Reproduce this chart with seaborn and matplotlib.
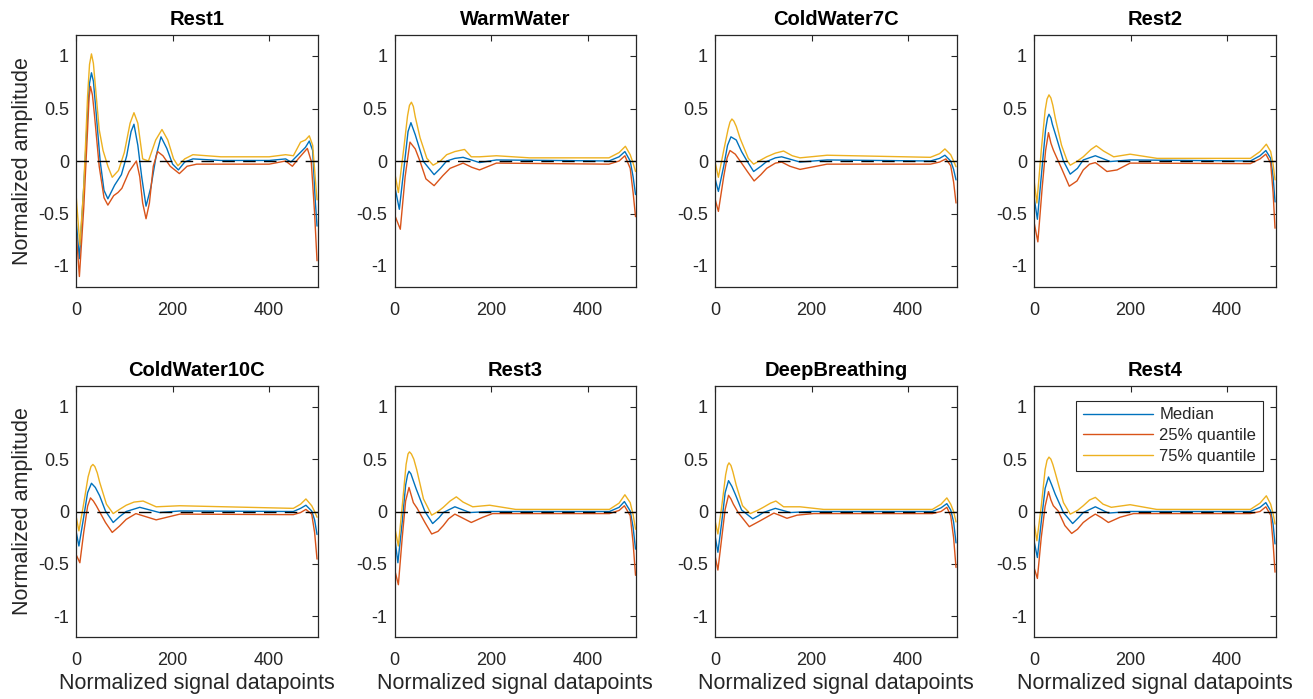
import numpy as np
import pandas as pd
import matplotlib
matplotlib.use("Agg")
import matplotlib.pyplot as plt
import seaborn as sns

# ---- data (x = datapoint index, y = normalized amplitude) ----
conditions = ["Rest1", "WarmWater", "ColdWater7C", "Rest2",
              "ColdWater10C", "Rest3", "DeepBreathing", "Rest4"]
series_names = ["Median", "25% quantile", "75% quantile"]

# Rest1
r1_med_x = [0, 7, 16, 24, 28, 32, 36, 40, 50, 58, 66, 80, 94, 105, 114, 120, 128, 136, 145, 155, 166, 176, 188, 200, 212, 225, 242, 300, 400, 434, 445, 460, 475, 483, 490, 495, 499]
r1_med = [-0.55, -0.93, -0.25, 0.45, 0.74, 0.84, 0.76, 0.55, 0.0, -0.28, -0.36, -0.23, -0.13, 0.05, 0.28, 0.35, 0.15, -0.15, -0.43, -0.25, 0.05, 0.23, 0.12, -0.03, -0.085, -0.01, 0.02, 0.005, 0.005, 0.02, -0.01, 0.06, 0.13, 0.19, 0.1, -0.35, -0.62]
r1_q25_x = [0, 7, 16, 24, 27, 30, 34, 38, 48, 58, 66, 78, 87, 95, 110, 125, 132, 138, 145, 152, 160, 169, 180, 195, 214, 230, 250, 300, 400, 434, 448, 460, 479, 487, 494, 499]
r1_q25 = [-0.65, -1.1, -0.45, 0.3, 0.6, 0.71, 0.63, 0.45, -0.05, -0.35, -0.42, -0.33, -0.3, -0.26, -0.1, 0.0, -0.15, -0.4, -0.55, -0.4, -0.05, 0.09, 0.05, -0.05, -0.12, -0.05, -0.03, -0.03, -0.03, 0.0, -0.05, 0.02, 0.12, 0.0, -0.5, -0.95]
r1_q75_x = [0, 8, 16, 24, 28, 32, 36, 40, 48, 56, 66, 75, 88, 100, 112, 120, 128, 138, 150, 165, 178, 190, 202, 211, 225, 242, 300, 400, 434, 450, 465, 475, 483, 490, 496, 499]
r1_q75 = [-0.31, -0.8, -0.25, 0.62, 0.92, 1.02, 0.93, 0.72, 0.3, 0.1, -0.05, -0.155, -0.09, 0.08, 0.36, 0.46, 0.36, 0.02, 0.0, 0.2, 0.3, 0.2, 0.02, -0.045, 0.02, 0.06, 0.04, 0.04, 0.06, 0.05, 0.18, 0.2, 0.24, 0.15, -0.2, -0.37]

# WarmWater
ww_med_x = [0, 10, 20, 28, 34, 43, 60, 82, 95, 108, 125, 142, 176, 211, 444, 465, 477, 488, 494, 499]
ww_med = [-0.23, -0.46, -0.05, 0.28, 0.365, 0.25, -0.005, -0.13, -0.07, 0.0, 0.025, 0.035, -0.015, 0.01, 0.0, 0.04, 0.09, 0.0, -0.15, -0.32]
ww_q25_x = [0, 12, 22, 32, 43, 53, 65, 82, 100, 115, 142, 160, 176, 211, 444, 465, 477, 488, 494, 499]
ww_q25 = [-0.51, -0.65, -0.15, 0.18, 0.115, -0.005, -0.17, -0.235, -0.14, -0.07, -0.02, -0.06, -0.085, -0.02, -0.03, 0.0, 0.05, -0.07, -0.3, -0.53]
ww_q75_x = [0, 8, 20, 27, 31, 35, 39, 43, 53, 67, 80, 95, 108, 125, 145, 159, 176, 211, 280, 444, 465, 478, 488, 494, 499]
ww_q75 = [-0.10, -0.30, 0.15, 0.43, 0.53, 0.56, 0.52, 0.42, 0.22, 0.025, -0.04, 0.0, 0.06, 0.09, 0.11, 0.04, 0.04, 0.05, 0.03, 0.03, 0.08, 0.14, 0.06, -0.02, -0.10]

# ColdWater7C
c7_med_x = [0, 7, 18, 26, 33, 44, 55, 67, 80, 95, 107, 125, 138, 176, 232, 446, 465, 476, 488, 494, 499]
c7_med = [-0.165, -0.29, -0.05, 0.15, 0.23, 0.20, 0.09, -0.005, -0.10, -0.05, -0.005, 0.03, 0.04, -0.01, 0.01, 0.0, 0.025, 0.055, 0.0, -0.08, -0.18]
c7_q25_x = [0, 7, 18, 25, 31, 42, 55, 67, 81, 95, 107, 125, 138, 155, 176, 232, 446, 465, 478, 488, 494, 499]
c7_q25 = [-0.36, -0.48, -0.15, 0.03, 0.10, 0.065, -0.02, -0.10, -0.19, -0.13, -0.07, -0.02, -0.01, -0.05, -0.08, -0.03, -0.03, -0.01, 0.02, -0.045, -0.2, -0.40]
c7_q75_x = [0, 7, 18, 27, 31, 35, 39, 44, 52, 69, 80, 95, 107, 125, 142, 160, 176, 232, 446, 465, 476, 488, 494, 499]
c7_q75 = [-0.005, -0.155, 0.1, 0.3, 0.37, 0.40, 0.38, 0.33, 0.215, 0.025, -0.03, 0.01, 0.04, 0.075, 0.095, 0.05, 0.03, 0.055, 0.035, 0.07, 0.115, 0.06, 0.0, -0.055]

# Rest2
r2_med_x = [0, 7, 16, 24, 28, 31, 35, 38, 47, 61, 75, 90, 102, 127, 158, 199, 448, 468, 480, 490, 495, 499]
r2_med = [-0.34, -0.555, -0.1, 0.3, 0.41, 0.445, 0.41, 0.35, 0.215, 0.0, -0.125, -0.07, 0.01, 0.05, -0.005, 0.01, 0.0, 0.05, 0.10, 0.025, -0.15, -0.39]
r2_q25_x = [0, 8, 17, 24, 30, 35, 40, 57, 73, 89, 102, 115, 127, 140, 151, 172, 199, 448, 468, 480, 490, 495, 499]
r2_q25 = [-0.58, -0.77, -0.25, 0.1, 0.27, 0.17, 0.105, -0.07, -0.24, -0.19, -0.085, -0.03, -0.015, -0.06, -0.10, -0.085, -0.02, -0.025, 0.02, 0.065, -0.02, -0.3, -0.64]
r2_q75_x = [0, 6, 15, 23, 27, 31, 35, 39, 44, 57, 68, 75, 90, 102, 118, 129, 144, 165, 199, 255, 448, 468, 481, 490, 495, 499]
r2_q75 = [-0.18, -0.40, 0.1, 0.48, 0.59, 0.63, 0.6, 0.53, 0.41, 0.15, 0.01, -0.04, 0.0, 0.04, 0.11, 0.145, 0.095, 0.04, 0.065, 0.025, 0.025, 0.09, 0.16, 0.09, -0.03, -0.18]

# ColdWater10C
c10_med_x = [0, 6, 15, 24, 32, 40, 49, 61, 77, 90, 104, 132, 173, 215, 450, 465, 476, 488, 494, 499]
c10_med = [-0.185, -0.33, -0.08, 0.18, 0.27, 0.23, 0.15, 0.005, -0.105, -0.05, 0.0, 0.04, -0.01, 0.005, 0.0, 0.03, 0.06, 0.005, -0.08, -0.22]
c10_q25_x = [0, 8, 16, 24, 30, 36, 42, 61, 75, 90, 104, 124, 145, 166, 215, 450, 465, 476, 488, 494, 499]
c10_q25 = [-0.41, -0.49, -0.2, 0.05, 0.13, 0.1, 0.055, -0.105, -0.20, -0.14, -0.075, -0.02, -0.05, -0.08, -0.025, -0.03, -0.01, 0.02, -0.025, -0.2, -0.455]
c10_q75_x = [0, 6, 15, 25, 31, 35, 39, 44, 49, 63, 77, 90, 104, 120, 139, 166, 215, 450, 465, 476, 488, 494, 499]
c10_q75 = [-0.04, -0.185, 0.05, 0.33, 0.43, 0.45, 0.43, 0.37, 0.28, 0.07, -0.02, 0.02, 0.06, 0.09, 0.10, 0.045, 0.055, 0.03, 0.07, 0.12, 0.055, 0.0, -0.055]

# Rest3
r3_med_x = [0, 7, 16, 23, 27, 30, 34, 37, 45, 63, 79, 92, 101, 125, 156, 197, 445, 465, 476, 488, 494, 499]
r3_med = [-0.23, -0.49, -0.1, 0.25, 0.35, 0.385, 0.36, 0.32, 0.215, 0.0, -0.115, -0.06, -0.01, 0.045, -0.01, 0.0, 0.0, 0.04, 0.095, 0.005, -0.15, -0.36]
r3_q25_x = [0, 8, 16, 23, 30, 35, 39, 47, 63, 77, 90, 101, 112, 125, 140, 159, 183, 203, 445, 465, 476, 488, 494, 499]
r3_q25 = [-0.55, -0.70, -0.25, 0.1, 0.23, 0.15, 0.085, 0.03, -0.105, -0.215, -0.19, -0.135, -0.07, -0.025, -0.06, -0.105, -0.055, -0.02, -0.02, 0.01, 0.055, -0.04, -0.3, -0.61]
r3_q75_x = [0, 8, 17, 24, 28, 31, 35, 40, 46, 60, 77, 90, 101, 115, 128, 142, 162, 197, 251, 445, 465, 477, 488, 494, 499]
r3_q75 = [-0.14, -0.33, 0.1, 0.45, 0.55, 0.57, 0.55, 0.5, 0.40, 0.12, -0.035, 0.0, 0.04, 0.1, 0.14, 0.09, 0.045, 0.06, 0.02, 0.02, 0.08, 0.16, 0.085, -0.03, -0.17]

# DeepBreathing
db_med_x = [0, 6, 14, 21, 28, 35, 42, 55, 78, 90, 100, 125, 156, 197, 450, 468, 480, 488, 494, 499]
db_med = [-0.23, -0.39, -0.1, 0.18, 0.295, 0.24, 0.165, 0.015, -0.07, -0.04, -0.01, 0.03, -0.01, 0.0, 0.0, 0.035, 0.075, 0.015, -0.1, -0.30]
db_q25_x = [0, 6, 14, 21, 28, 33, 38, 48, 59, 71, 93, 122, 136, 149, 170, 204, 450, 468, 480, 488, 494, 499]
db_q25 = [-0.42, -0.56, -0.25, 0.02, 0.155, 0.12, 0.07, -0.01, -0.075, -0.145, -0.09, -0.015, -0.04, -0.065, -0.035, -0.02, -0.02, 0.0, 0.04, -0.04, -0.25, -0.535]
db_q75_x = [0, 6, 14, 22, 26, 29, 33, 37, 44, 57, 73, 88, 100, 115, 126, 142, 176, 225, 450, 468, 480, 488, 494, 499]
db_q75 = [-0.085, -0.215, 0.05, 0.35, 0.44, 0.465, 0.44, 0.38, 0.25, 0.055, -0.02, 0.01, 0.04, 0.08, 0.10, 0.045, 0.045, 0.02, 0.02, 0.07, 0.13, 0.07, 0.0, -0.10]

# Rest4
r4_med_x = [0, 7, 15, 23, 30, 37, 44, 61, 80, 92, 102, 127, 154, 199, 448, 468, 480, 490, 495, 499]
r4_med = [-0.28, -0.44, -0.1, 0.22, 0.33, 0.25, 0.165, -0.01, -0.115, -0.06, -0.01, 0.045, -0.015, 0.0, 0.0, 0.04, 0.085, 0.005, -0.12, -0.31]
r4_q25_x = [0, 7, 15, 23, 30, 35, 40, 50, 64, 78, 90, 102, 115, 127, 140, 154, 178, 206, 448, 468, 480, 490, 495, 499]
r4_q25 = [-0.535, -0.64, -0.25, 0.05, 0.19, 0.11, 0.055, 0.005, -0.135, -0.21, -0.17, -0.105, -0.06, -0.025, -0.06, -0.105, -0.055, -0.02, -0.02, 0.0, 0.045, -0.035, -0.3, -0.58]
r4_q75_x = [0, 6, 15, 23, 27, 31, 35, 39, 44, 61, 75, 90, 102, 115, 127, 143, 160, 199, 254, 448, 468, 481, 490, 495, 499]
r4_q75 = [-0.10, -0.28, 0.05, 0.4, 0.49, 0.52, 0.5, 0.45, 0.37, 0.085, -0.025, 0.01, 0.055, 0.11, 0.135, 0.07, 0.04, 0.065, 0.02, 0.02, 0.08, 0.15, 0.07, -0.02, -0.12]

panel_series = {
    "Rest1": [(r1_med_x, r1_med), (r1_q25_x, r1_q25), (r1_q75_x, r1_q75)],
    "WarmWater": [(ww_med_x, ww_med), (ww_q25_x, ww_q25), (ww_q75_x, ww_q75)],
    "ColdWater7C": [(c7_med_x, c7_med), (c7_q25_x, c7_q25), (c7_q75_x, c7_q75)],
    "Rest2": [(r2_med_x, r2_med), (r2_q25_x, r2_q25), (r2_q75_x, r2_q75)],
    "ColdWater10C": [(c10_med_x, c10_med), (c10_q25_x, c10_q25), (c10_q75_x, c10_q75)],
    "Rest3": [(r3_med_x, r3_med), (r3_q25_x, r3_q25), (r3_q75_x, r3_q75)],
    "DeepBreathing": [(db_med_x, db_med), (db_q25_x, db_q25), (db_q75_x, db_q75)],
    "Rest4": [(r4_med_x, r4_med), (r4_q25_x, r4_q25), (r4_q75_x, r4_q75)],
}

# long form table for seaborn
rows = []
for cond in conditions:
    for name, (xs, ys) in zip(series_names, panel_series[cond]):
        for xv, yv in zip(xs, ys):
            rows.append((cond, name, xv, yv))
df = pd.DataFrame(rows, columns=["condition", "series", "x", "y"])

sns.set_style("white")
plt.rcParams['font.family'] = ['Liberation Sans', 'DejaVu Sans']

# matlab default line colours
palette = {"Median": (0.0, 0.447, 0.741),
           "25% quantile": (0.85, 0.325, 0.098),
           "75% quantile": (0.929, 0.694, 0.125)}
axcol = (0.15, 0.15, 0.15)

fig = plt.figure(figsize=(13.13, 6.99), dpi=100)
lefts = [76, 394.5, 715, 1034]
W, H = 1313, 699
rows_px = [(35, 287), (386, 637)]

for i, cond in enumerate(conditions):
    r, c = divmod(i, 4)
    top, bot = rows_px[r]
    ax = fig.add_axes([lefts[c] / W, 1 - bot / H, 241.5 / W, (bot - top) / H])
    sub = df[df["condition"] == cond]
    sns.lineplot(data=sub, x="x", y="y", hue="series", hue_order=series_names,
                 palette=palette, estimator=None, sort=False, linewidth=1.0,
                 ax=ax, legend=(cond == "Rest4"))
    ax.plot([0, 500], [0, 0], color="black", linestyle=(0, (9, 6)), linewidth=1.0)

    ax.set_xlim(0, 500)
    ax.set_ylim(-1.2, 1.2)
    ax.set_xticks([0, 200, 400])
    ax.set_yticks([-1, -0.5, 0, 0.5, 1])
    ax.set_yticklabels(["-1", "-0.5", "0", "0.5", "1"])
    ax.tick_params(direction="in", length=4, width=0.8, top=True, right=True,
                   labelsize=13, colors=axcol, labelcolor=axcol)
    ax.tick_params(axis="x", pad=10.5)
    ax.tick_params(axis="y", pad=5)
    for s in ax.spines.values():
        s.set_color(axcol)
        s.set_linewidth(0.9)
        s.set_visible(True)
    ax.set_title(cond, fontsize=14.5, fontweight="bold", color="black", pad=7)
    ax.set_xlabel("Normalized signal datapoints" if r == 1 else "", fontsize=15.5,
                  color=axcol, labelpad=3)
    ax.set_ylabel("Normalized amplitude" if c == 0 else "", fontsize=15.5,
                  color=axcol, labelpad=4)

    if cond == "Rest4":
        leg = ax.legend(loc="upper right", bbox_to_anchor=(0.948, 0.941), borderaxespad=0,
                        fontsize=12, handlelength=4.2, fancybox=False, framealpha=1,
                        borderpad=0.4, labelspacing=0.35, handletextpad=0.4)
        leg.get_frame().set_edgecolor(axcol)
        leg.get_frame().set_linewidth(0.8)

fig.savefig("out.png", dpi=100)
